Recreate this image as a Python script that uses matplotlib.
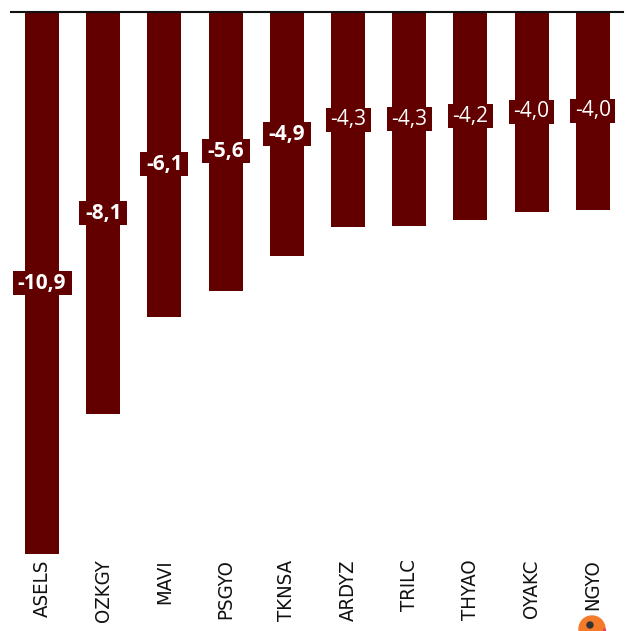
import matplotlib
matplotlib.use("Agg")
import matplotlib.pyplot as plt
from matplotlib.patches import Circle

categories = ["ASELS", "OZKGY", "MAVI", "PSGYO", "TKNSA", "ARDYZ", "TRILC", "THYAO", "OYAKC", "NGYO"]
values = [-10.9, -8.1, -6.1, -5.6, -4.9, -4.3, -4.3, -4.2, -4.0, -4.0]
bar_tops = [-10.9, -8.09, -6.13, -5.61, -4.91, -4.33, -4.31, -4.19, -4.02, -3.98]
labels = ["-10,9", "-8,1", "-6,1", "-5,6", "-4,9", "-4,3", "-4,3", "-4,2", "-4,0", "-4,0"]
bold_flags = [True, True, True, True, True, False, False, False, False, False]
bar_color = "#620000"

W, H = 630, 631
fig = plt.figure(figsize=(W / 100, H / 100), dpi=100, facecolor="white")
left, right, top, bottom = 11.4, 623.4, 12.0, 554.0
ax = fig.add_axes([left / W, 1 - bottom / H, (right - left) / W, (bottom - top) / H])

x = list(range(len(categories)))
ax.bar(x, bar_tops, width=0.556, color=bar_color, linewidth=0)
ax.set_xlim(-0.5, len(categories) - 0.5)
ax.set_ylim(-10.9, 0)

for s in ["left", "right", "bottom"]:
    ax.spines[s].set_visible(False)
ax.spines["top"].set_linewidth(1.5)
ax.spines["top"].set_color("#111111")
ax.set_yticks([])
ax.set_xticks(x)
ax.set_xticklabels(categories, rotation=90, fontsize=14.6, family="DejaVu Sans", color="#111111", stretch="condensed")
ax.tick_params(axis="x", length=0, pad=4)

px_x = (right - left) / len(categories)
px_y = (bottom - top) / 10.9
for xi, v, lab, b in zip(x, bar_tops, labels, bold_flags):
    box_w = (59 if len(lab) == 5 else (48 if b else 45)) / px_x
    box_h = 24 / px_y
    ax.bar(xi, box_h, width=box_w, bottom=v / 2 - box_h / 2, color=bar_color, linewidth=0, zorder=4)
    ax.text(xi, v / 2, lab, ha="center", va="center", color="white", fontsize=15,
            family="Open Sans", fontweight="bold" if b else "normal", zorder=5)

fig.add_artist(Circle((592 / W, 1 - 629 / H), 13 / W, transform=fig.transFigure, color="#F47A2A", zorder=10))
fig.add_artist(Circle((590 / W, 1 - 625 / H), 3 / W, transform=fig.transFigure, color="#333333", zorder=11))
fig.add_artist(Circle((604.5 / W, 1 - 630 / H), 1 / W, transform=fig.transFigure, color="#E8406A", zorder=11))

fig.savefig("out.png", dpi=100, facecolor="white")
